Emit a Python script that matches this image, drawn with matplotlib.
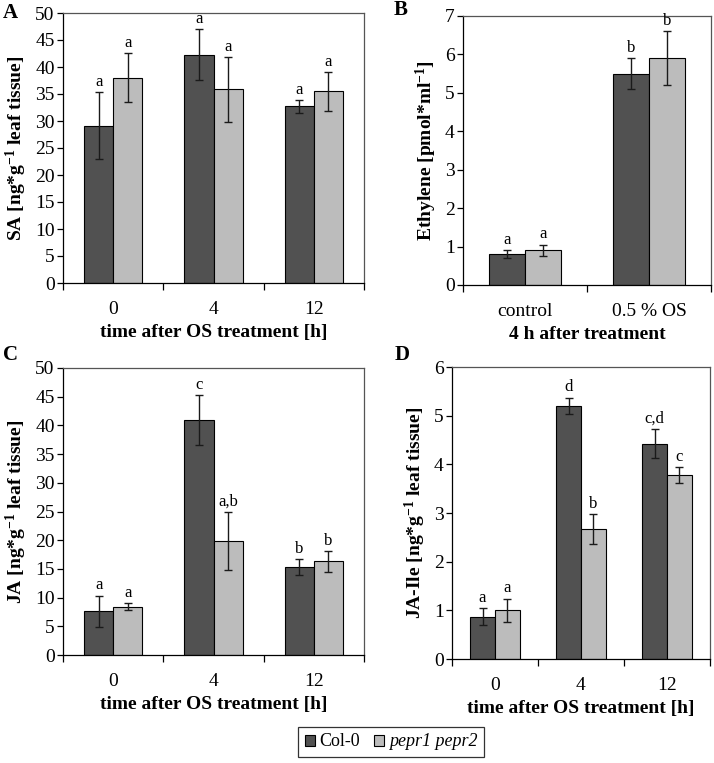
import numpy as np
import matplotlib
matplotlib.use("Agg")
import matplotlib.pyplot as plt
from matplotlib.patches import Patch

plt.rcParams['font.family'] = ['Liberation Serif', 'DejaVu Serif']
plt.rcParams['mathtext.fontset'] = 'custom'
plt.rcParams['mathtext.rm'] = 'Liberation Serif'
plt.rcParams['mathtext.bf'] = 'Liberation Serif:bold'
plt.rcParams['mathtext.it'] = 'Liberation Serif:italic'

# Panel A - SA
a_cats = ['0', '4', '12']
a_col = [29.1, 42.3, 32.7]
a_col_err = [6.2, 4.75, 1.15]
a_pep = [38.0, 35.9, 35.5]
a_pep_err = [4.55, 6.0, 3.6]
a_col_let = ['a', 'a', 'a']
a_pep_let = ['a', 'a', 'a']

# Panel B - Ethylene
b_cats = ['control', '0.5 % OS']
b_col = [0.8, 5.5]
b_col_err = [0.1, 0.4]
b_pep = [0.9, 5.9]
b_pep_err = [0.15, 0.7]
b_col_let = ['a', 'b']
b_pep_let = ['a', 'b']

# Panel C - JA
c_cats = ['0', '4', '12']
c_col = [7.6, 40.9, 15.3]
c_col_err = [2.75, 4.35, 1.4]
c_pep = [8.4, 19.9, 16.3]
c_pep_err = [0.6, 5.1, 1.8]
c_col_let = ['a', 'c', 'b']
c_pep_let = ['a', 'a,b', 'b']

# Panel D - JA-Ile
d_cats = ['0', '4', '12']
d_col = [0.87, 5.2, 4.42]
d_col_err = [0.18, 0.17, 0.3]
d_pep = [1.0, 2.67, 3.78]
d_pep_err = [0.24, 0.3, 0.16]
d_col_let = ['a', 'd', 'c,d']
d_pep_let = ['a', 'b', 'c']

dark = '#515151'
light = '#bcbcbc'
W, H = 714, 763
fig = plt.figure(figsize=(W / 100, H / 100), dpi=100)


def box(l, t, r, b):
    return [l / W, 1 - b / H, (r - l) / W, (b - t) / H]


def panel(pos, cats, col, col_err, pep, pep_err, col_let, pep_let,
          ymax, ystep, ylabel, xlabel, tag, tagpos):
    ax = fig.add_axes(box(*pos))
    n = len(cats)
    x = np.arange(n) + 0.5
    w = 0.29
    ekw = dict(ecolor='#1a1a1a', elinewidth=1.0, capsize=3, capthick=1.0)
    ax.bar(x - w / 2, col, w, yerr=col_err, color=dark, edgecolor='black',
           linewidth=0.8, error_kw=ekw, zorder=2)
    ax.bar(x + w / 2, pep, w, yerr=pep_err, color=light, edgecolor='black',
           linewidth=0.8, error_kw=ekw, zorder=2)
    off = ymax * 0.008
    for i in range(n):
        ax.text(x[i] - w / 2, col[i] + col_err[i] + off, col_let[i],
                ha='center', va='bottom', fontsize=12)
        ax.text(x[i] + w / 2, pep[i] + pep_err[i] + off, pep_let[i],
                ha='center', va='bottom', fontsize=12)
    ax.set_xlim(0, n)
    ax.set_ylim(0, ymax)
    ax.set_yticks(np.arange(0, ymax + 0.01, ystep))
    ax.set_xticks(np.arange(0, n + 1))
    ax.set_xticklabels([])
    ax.set_xticks(x, minor=True)
    ax.set_xticklabels(cats, minor=True, fontsize=14)
    ax.tick_params(axis='x', which='minor', length=0, pad=13)
    ax.tick_params(axis='x', which='major', direction='out', length=5, width=0.9)
    ax.tick_params(axis='y', direction='out', length=4, width=0.9,
                   labelsize=14, pad=2)
    for s in ['top', 'right']:
        ax.spines[s].set_color('#555555')
        ax.spines[s].set_linewidth(0.9)
    for s in ['left', 'bottom']:
        ax.spines[s].set_linewidth(0.9)
    ax.set_ylabel(ylabel, fontsize=14, fontweight='bold', labelpad=4)
    ax.set_xlabel(xlabel, fontsize=14, fontweight='bold', labelpad=4)
    fig.text(tagpos[0] / W, 1 - tagpos[1] / H, tag, fontsize=15,
             fontweight='bold', ha='left', va='center')
    return ax


ng = r'[ng*g$^{\mathbf{-1}}$ leaf tissue]'
tx = 'time after OS treatment [h]'
panel((63, 13, 364, 283), a_cats, a_col, a_col_err, a_pep, a_pep_err,
      a_col_let, a_pep_let, 50, 5, 'SA ' + ng, tx, 'A', (3, 13))
panel((463, 16, 711, 285), b_cats, b_col, b_col_err, b_pep, b_pep_err,
      b_col_let, b_pep_let, 7, 1, r'Ethylene [pmol*ml$^{\mathbf{-1}}$]',
      '4 h after treatment', 'B', (394, 10))
panel((63, 368, 364, 655), c_cats, c_col, c_col_err, c_pep, c_pep_err,
      c_col_let, c_pep_let, 50, 5, 'JA ' + ng, tx, 'C', (3, 355))
panel((452, 367, 710, 659), d_cats, d_col, d_col_err, d_pep, d_pep_err,
      d_col_let, d_pep_let, 6, 1, 'JA-Ile ' + ng, tx, 'D', (395, 355))

handles = [Patch(facecolor=dark, edgecolor='black', linewidth=0.8),
           Patch(facecolor=light, edgecolor='black', linewidth=0.8)]
leg = fig.legend(handles, ['Col-0', 'pepr1 pepr2'], loc='center',
                 bbox_to_anchor=(391 / W, 1 - 742 / H), ncol=2, frameon=True,
                 fancybox=False, edgecolor='black', fontsize=13,
                 handlelength=0.55, handleheight=0.55, handletextpad=0.25,
                 columnspacing=0.8, borderpad=0.35)
leg.get_frame().set_linewidth(0.9)
leg.get_texts()[1].set_fontstyle('italic')

fig.savefig('out.png', dpi=100)
